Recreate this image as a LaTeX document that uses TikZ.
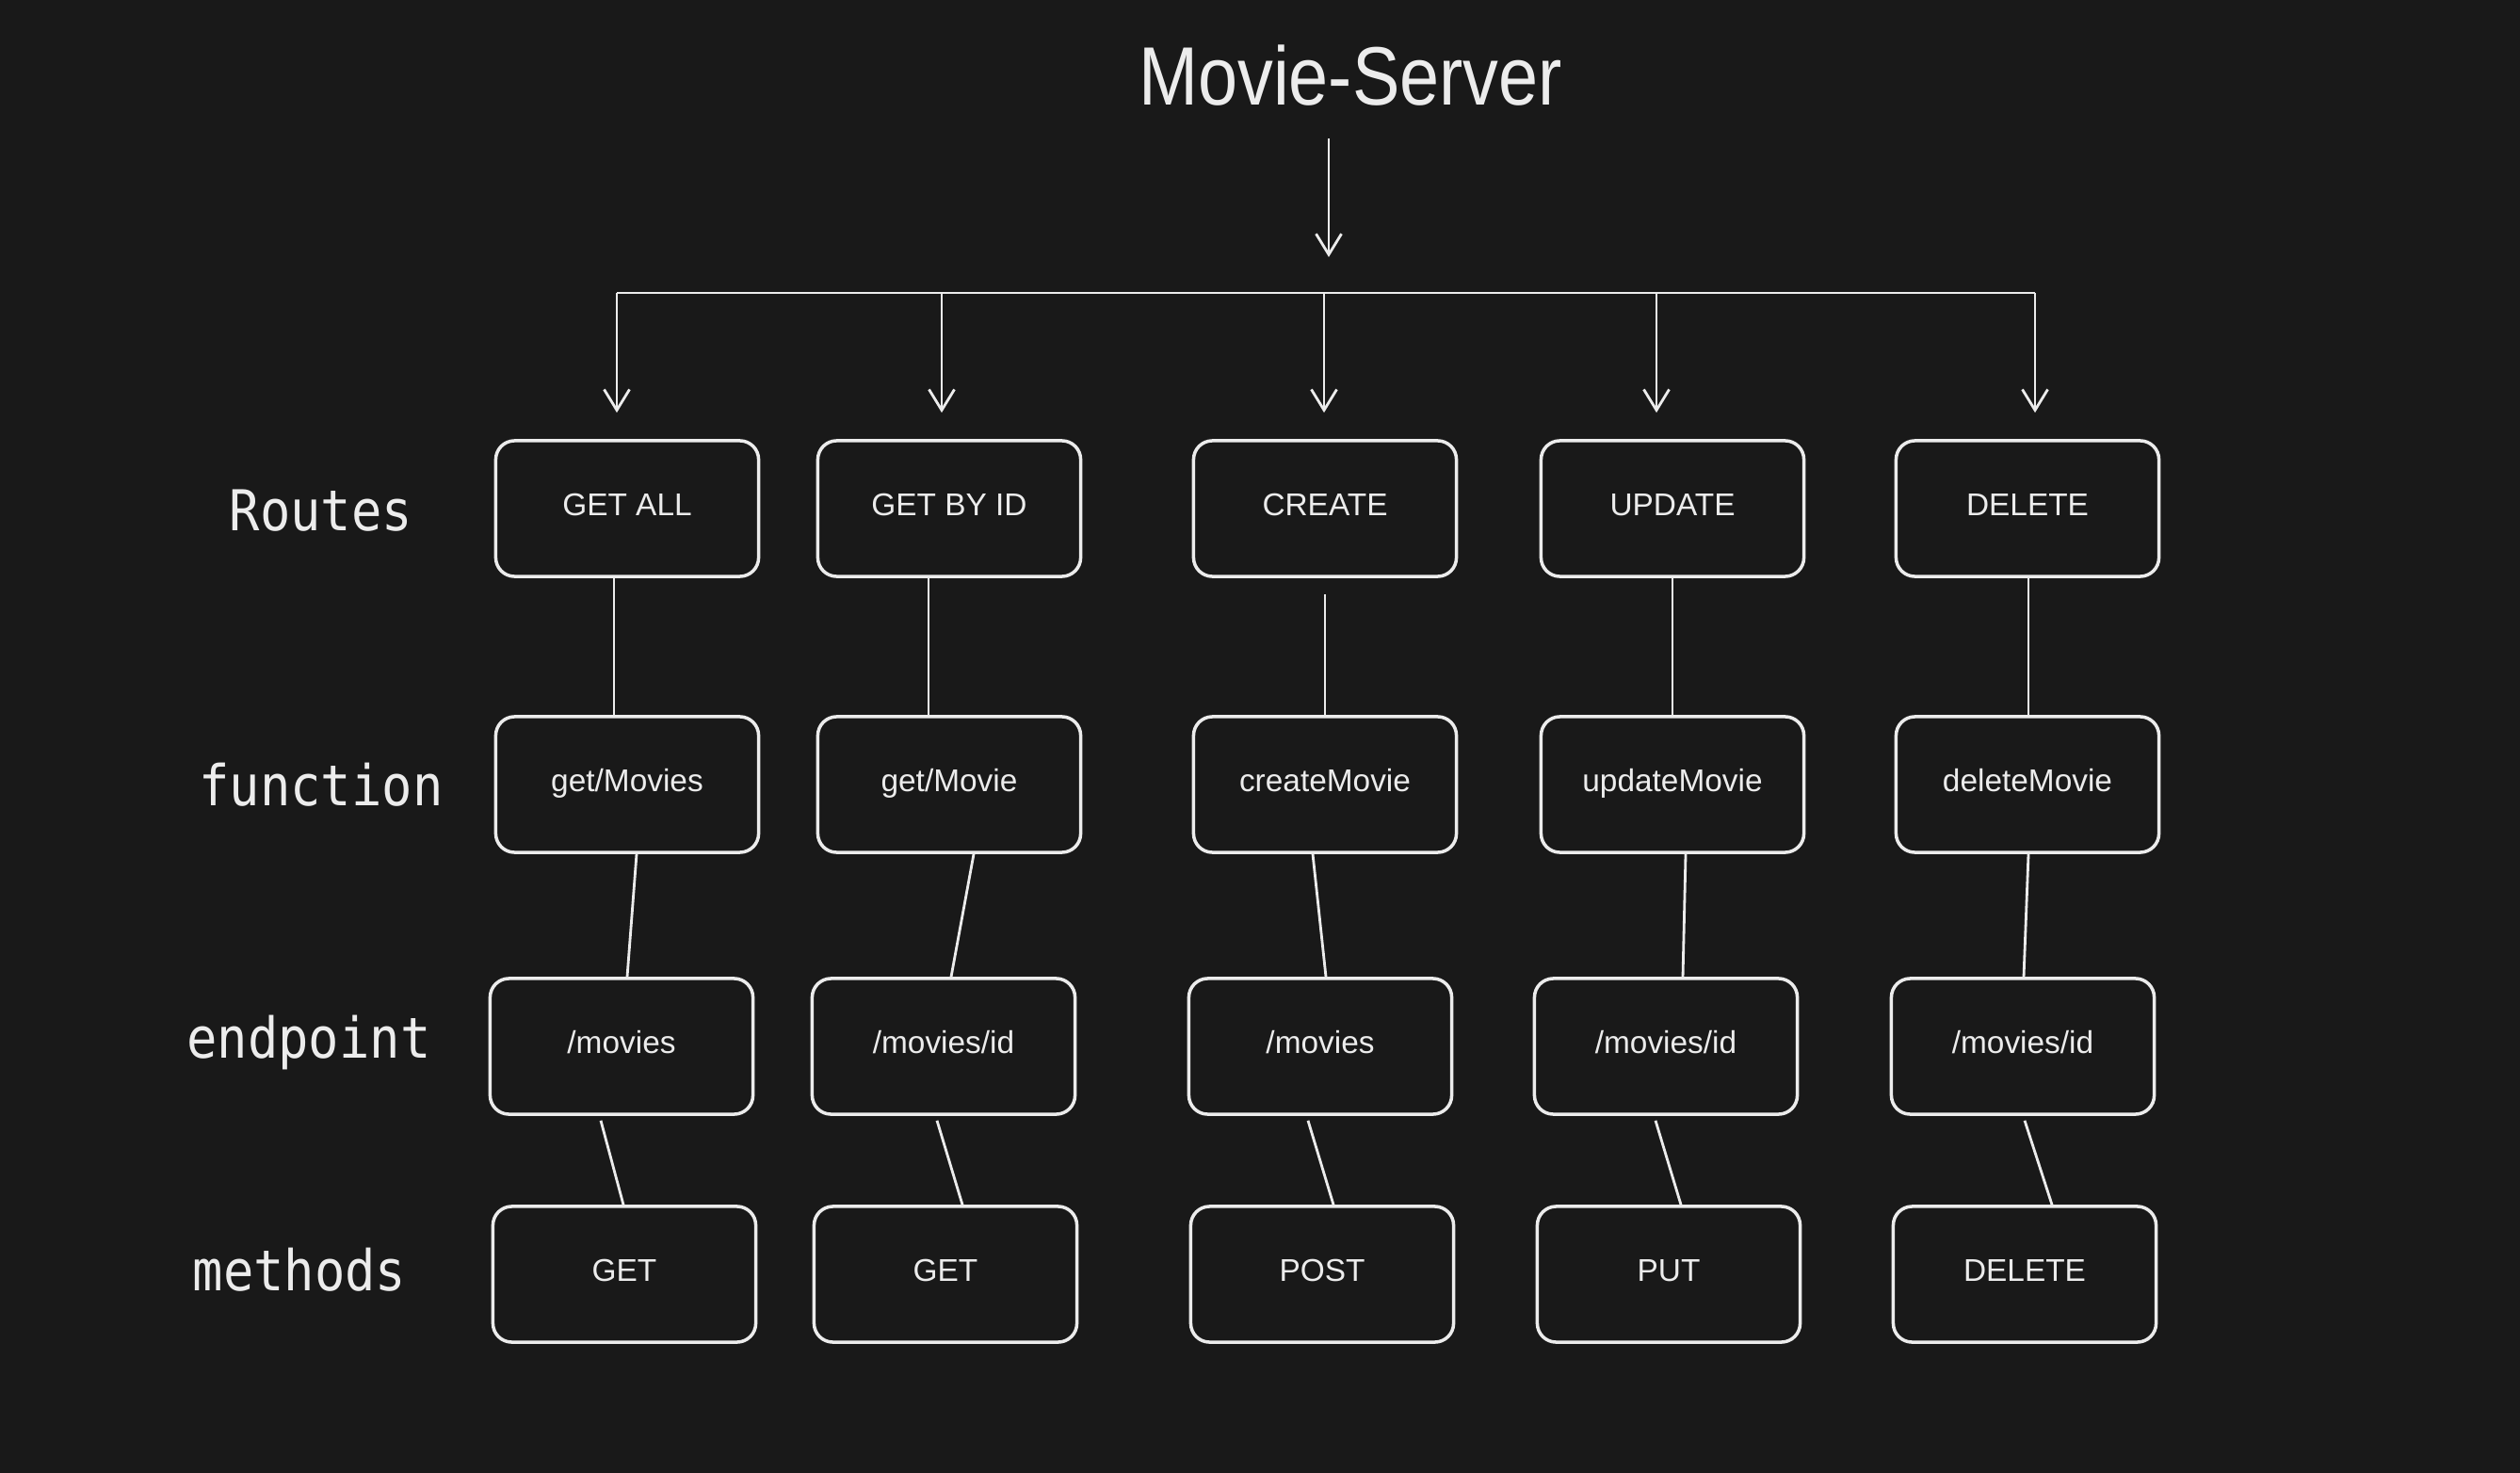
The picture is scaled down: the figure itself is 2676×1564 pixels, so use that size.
\documentclass[tikz,border=0pt]{standalone}
\usepackage{fontspec}
\setmainfont{Liberation Sans}
\newfontfamily\titlefont[FakeStretch=0.86]{Liberation Sans}
\newfontfamily\rowfont[FakeStretch=0.9]{DejaVu Sans Mono}
\usetikzlibrary{arrows.meta}
\definecolor{bgdark}{HTML}{191919}
\definecolor{chalk}{HTML}{ECECEC}

\begin{document}
\begin{tikzpicture}[x=0.01cm, y=-0.01cm,
    box/.style={draw=chalk, line width=1pt, rounded corners=0.2cm, fill=bgdark,
        minimum width=2.79cm, minimum height=1.44cm, text=chalk,
        font=\fontsize{9.5}{11}\selectfont, text height=1.6ex, text depth=0.8ex},
    rowlabel/.style={anchor=base, text=chalk, font=\rowfont\fontsize{17}{20}\selectfont},
    wire/.style={draw=chalk, line width=0.8pt},
    arr/.style={wire, -{Straight Barb[length=0.22cm, width=0.27cm]}}]
    % Sfondo
    \fill[bgdark] (0,0) rectangle (2676,1564);
    \useasboundingbox (0,0) rectangle (2676,1564);

    % Titolo
    \node[text=chalk, font=\titlefont\fontsize{25}{30}\selectfont, inner sep=0] (title) at (1434,80) {Movie-Server};

    % Etichette delle righe
    \node[rowlabel] (lroutes) at (341,563) {Routes};
    \node[rowlabel] (lfunc) at (341,855) {function};
    \node[rowlabel] (lend) at (328,1123) {endpoint};
    \node[rowlabel] (lmeth) at (318,1370) {methods};

    % Routes
    \node[box] (r1) at (666,540) {GET ALL};
    \node[box] (r2) at (1008,540) {GET BY ID};
    \node[box] (r3) at (1407,540) {CREATE};
    \node[box] (r4) at (1776,540) {UPDATE};
    \node[box] (r5) at (2153,540) {DELETE};

    % Funzioni
    \node[box] (f1) at (666,833) {get/Movies};
    \node[box] (f2) at (1008,833) {get/Movie};
    \node[box] (f3) at (1407,833) {createMovie};
    \node[box] (f4) at (1776,833) {updateMovie};
    \node[box] (f5) at (2153,833) {deleteMovie};

    % Endpoint
    \node[box] (e1) at (660,1111) {/movies};
    \node[box] (e2) at (1002,1111) {/movies/id};
    \node[box] (e3) at (1402,1111) {/movies};
    \node[box] (e4) at (1769,1111) {/movies/id};
    \node[box] (e5) at (2148,1111) {/movies/id};

    % Metodi
    \node[box] (m1) at (663,1353) {GET};
    \node[box] (m2) at (1004,1353) {GET};
    \node[box] (m3) at (1404,1353) {POST};
    \node[box] (m4) at (1772,1353) {PUT};
    \node[box] (m5) at (2150,1353) {DELETE};

    % Linea di smistamento
    \coordinate (top) at (1411,311);
    \coordinate (b1) at (655,311);
    \coordinate (b2) at (1000,311);
    \coordinate (b3) at (1406,311);
    \coordinate (b4) at (1759,311);
    \coordinate (b5) at (2161,311);
    \draw[arr, shorten <=0.34cm, shorten >=0.38cm] (title.south -| top) -- (top);
    \draw[wire] (b1) -- (b5);
    \draw[arr, shorten >=0.28cm] (b1) -- (b1 |- r1.north);
    \draw[arr, shorten >=0.28cm] (b2) -- (b2 |- r2.north);
    \draw[arr, shorten >=0.28cm] (b3) -- (b3 |- r3.north);
    \draw[arr, shorten >=0.28cm] (b4) -- (b4 |- r4.north);
    \draw[arr, shorten >=0.28cm] (b5) -- (b5 |- r5.north);

    % Routes -> funzioni
    \draw[wire] ([xshift=-0.14cm]r1.south) -- ([xshift=-0.14cm]f1.north);
    \draw[wire] ([xshift=-0.22cm]r2.south) -- ([xshift=-0.22cm]f2.north);
    \draw[wire] ([yshift=-0.17cm]r3.south) -- (f3.north);
    \draw[wire] (r4.south) -- (f4.north);
    \draw[wire] ([xshift=0.01cm]r5.south) -- ([xshift=0.01cm]f5.north);

    % Funzioni -> endpoint
    \draw[wire] ([xshift=0.10cm]f1.south) -- ([xshift=0.06cm]e1.north);
    \draw[wire] ([xshift=0.26cm]f2.south) -- ([xshift=0.08cm]e2.north);
    \draw[wire] ([xshift=-0.13cm]f3.south) -- ([xshift=0.06cm]e3.north);
    \draw[wire] ([xshift=0.14cm]f4.south) -- ([xshift=0.18cm]e4.north);
    \draw[wire] ([xshift=0.01cm]f5.south) -- ([xshift=0.01cm]e5.north);

    % Endpoint -> metodi
    \draw[wire] ([xshift=-0.22cm, yshift=-0.05cm]e1.south) -- ([xshift=-0.01cm]m1.north);
    \draw[wire] ([xshift=-0.07cm, yshift=-0.05cm]e2.south) -- ([xshift=0.18cm]m2.north);
    \draw[wire] ([xshift=-0.13cm, yshift=-0.05cm]e3.south) -- ([xshift=0.12cm]m3.north);
    \draw[wire] ([xshift=-0.11cm, yshift=-0.05cm]e4.south) -- ([xshift=0.13cm]m4.north);
    \draw[wire] ([xshift=0.02cm, yshift=-0.05cm]e5.south) -- ([xshift=0.29cm]m5.north);
\end{tikzpicture}
\end{document}
